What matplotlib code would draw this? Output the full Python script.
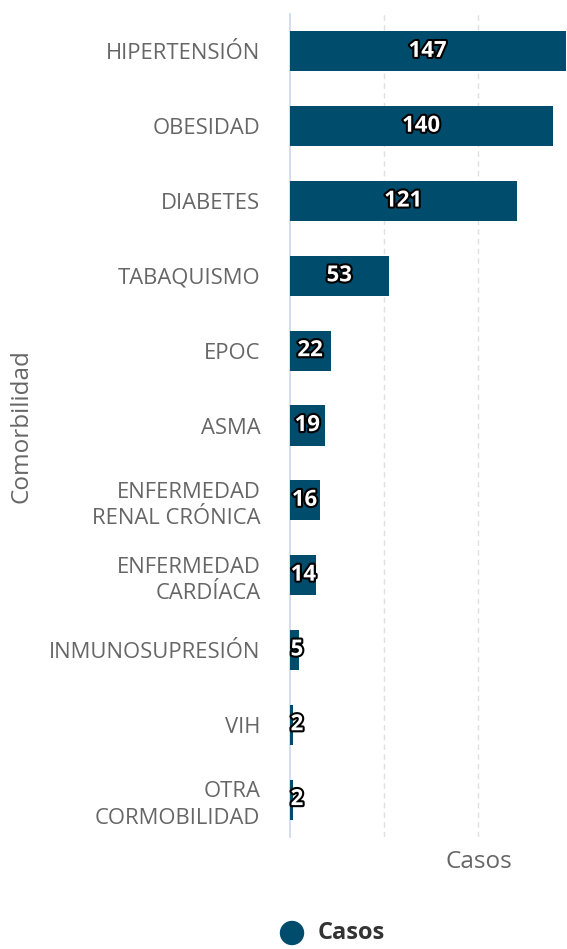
import matplotlib.pyplot as plt
import matplotlib.patheffects as pe
from matplotlib.patches import Ellipse

plt.rcParams['font.family'] = ['Open Sans', 'DejaVu Sans']

categories = [
    "HIPERTENSIÓN", "OBESIDAD", "DIABETES", "TABAQUISMO", "EPOC", "ASMA",
    "ENFERMEDAD\nRENAL CRÓNICA", "ENFERMEDAD\nCARDÍACA", "INMUNOSUPRESIÓN",
    "VIH", "OTRA\nCORMOBILIDAD",
]
casos = [147, 140, 121, 53, 22, 19, 16, 14, 5, 2, 2]
grid_ticks = [50, 100]

bar_color = "#004c6d"
label_gray = "#666666"

W, H = 567, 949
fig = plt.figure(figsize=(W / 100, H / 100), dpi=100)
ax = fig.add_axes([289.5 / W, 1 - 837 / H, 277.5 / W, 823 / H])

ypos = list(range(len(categories)))
ax.barh(ypos, casos, height=0.535, color=bar_color, zorder=3)
ax.set_xlim(0, 277.5 / 1.88)
ax.set_ylim(len(categories) - 0.5, -0.5)

for x in grid_ticks:
    ax.axvline(x, color="#e0e0e0", lw=1, ls=(0, (4, 3)), zorder=1)

for s in ["top", "right", "bottom"]:
    ax.spines[s].set_visible(False)
ax.spines["left"].set_color("#ccd6eb")
ax.spines["left"].set_linewidth(1.2)
ax.set_xticks([])
ax.set_yticks(ypos)
ax.set_yticklabels(categories, fontsize=15.8, color=label_gray, ha="right",
                   linespacing=1.35)
ax.tick_params(axis="y", length=0, pad=21)

stroke = [pe.withStroke(linewidth=3, foreground="black")]
for y, v in zip(ypos, casos):
    if v >= 16:
        ax.text(v / 2, y, str(v), ha="center", va="center", fontsize=16,
                fontweight="bold", color="white", path_effects=stroke, zorder=4)
    else:
        ax.text(0.6, y, str(v), ha="left", va="center", fontsize=16,
                fontweight="bold", color="white", path_effects=stroke, zorder=4)

fig.text(22 / W, 1 - 426 / H, "Comorbilidad", rotation=90, ha="center",
         va="center", fontsize=17.5, color=label_gray)
fig.text(479 / W, 1 - 862 / H, "Casos", ha="center", va="center",
         fontsize=17.5, color=label_gray)

# legend
fig.patches.append(Ellipse((292 / W, 1 - 933 / H), 23 / W, 23 / H,
                           color=bar_color, transform=fig.transFigure,
                           figure=fig))
fig.text(318 / W, 1 - 933 / H, "Casos", ha="left", va="center",
         fontsize=17, fontweight="bold", color="#333333")

fig.savefig("out.png", dpi=100)
